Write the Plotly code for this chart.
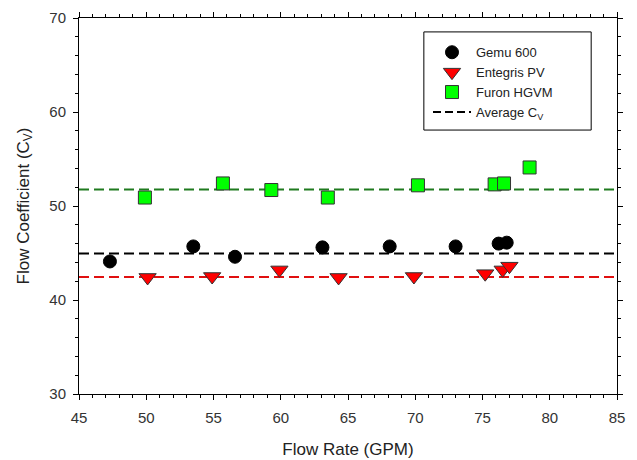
import plotly.graph_objects as go

# Data
gemu_x = [47.3, 53.5, 56.6, 63.1, 68.1, 73.0, 76.2, 76.8]
gemu_y = [44.1, 45.7, 44.6, 45.6, 45.7, 45.7, 46.0, 46.1]
entegris_x = [50.1, 54.9, 59.9, 64.3, 69.9, 75.2, 76.5, 77.0]
entegris_y = [42.4, 42.5, 43.2, 42.4, 42.5, 42.8, 43.2, 43.6]
furon_x = [49.9, 55.7, 59.3, 63.5, 70.2, 75.9, 76.6, 78.5]
furon_y = [50.9, 52.4, 51.7, 50.9, 52.2, 52.3, 52.4, 54.1]
avg_names = ["Gemu 600", "Entegris PV", "Furon HGVM"]
avg_values = [44.95, 42.45, 51.75]
avg_colors = ["#000000", "#e01010", "#1f7a1f"]
x_range = [45, 85]
y_range = [30, 70]

FONT = "Liberation Sans, Arial, sans-serif"

fig = go.Figure()

for name, val, col in zip(avg_names, avg_values, avg_colors):
    fig.add_trace(go.Scatter(
        x=x_range, y=[val, val], mode="lines",
        line=dict(color=col, width=2, dash="10px,5px"),
        showlegend=False, hoverinfo="skip"))

fig.add_trace(go.Scatter(
    x=gemu_x, y=gemu_y, mode="markers", name="Gemu 600",
    marker=dict(symbol="circle", size=13, color="#000000",
                line=dict(color="#000000", width=1))))
fig.add_trace(go.Scatter(
    x=entegris_x, y=entegris_y, mode="markers", name="Entegris PV",
    marker=dict(symbol="triangle-down", size=15, color="#ff0000",
                line=dict(color="#333333", width=1))))
fig.add_trace(go.Scatter(
    x=furon_x, y=furon_y, mode="markers", name="Furon HGVM",
    marker=dict(symbol="square", size=13, color="#00ff00",
                line=dict(color="#333333", width=1))))
fig.add_trace(go.Scatter(
    x=[None], y=[None], mode="lines", name="Average C<sub>V</sub>",
    line=dict(color="#000000", width=2, dash="8px,4px")))

axis_common = dict(
    showgrid=False, zeroline=False, showline=True, linecolor="#000000",
    linewidth=1, mirror="ticks", ticks="outside", ticklen=5,
    tickcolor="#000000", tickwidth=1, automargin=False,
    tickfont=dict(family=FONT, size=15, color="#333333"),
)

fig.update_xaxes(
    range=x_range, dtick=5, tick0=45,
    minor=dict(dtick=1, ticks="outside", ticklen=3, tickcolor="#000000"),
    title=dict(text="Flow Rate (GPM)", font=dict(family=FONT, size=17, color="#222222"),
               standoff=18),
    ticklabelstandoff=5,
    **axis_common)
fig.update_yaxes(
    range=y_range, dtick=10, tick0=30,
    minor=dict(dtick=2, ticks="outside", ticklen=3, tickcolor="#000000"),
    title=dict(text="Flow Coefficient (C<sub>V</sub>)",
               font=dict(family=FONT, size=17, color="#222222"), standoff=15),
    ticklabelstandoff=4,
    **axis_common)

fig.add_shape(type="rect", xref="paper", yref="paper",
              x0=0.641, x1=0.952, y0=0.702, y1=0.963,
              line=dict(color="#000000", width=1), fillcolor="rgba(0,0,0,0)")

fig.update_layout(
    width=629, height=452,
    margin=dict(l=71, r=20, t=10, b=66),
    paper_bgcolor="#ffffff", plot_bgcolor="#ffffff",
    font=dict(family=FONT, size=13, color="#222222"),
    legend=dict(x=0.6487, y=0.9487, xanchor="left", yanchor="top",
                bgcolor="rgba(0,0,0,0)", borderwidth=0,
                font=dict(family=FONT, size=13, color="#222222"),
                tracegroupgap=0, itemwidth=38),
)

fig.write_html("out.html")
